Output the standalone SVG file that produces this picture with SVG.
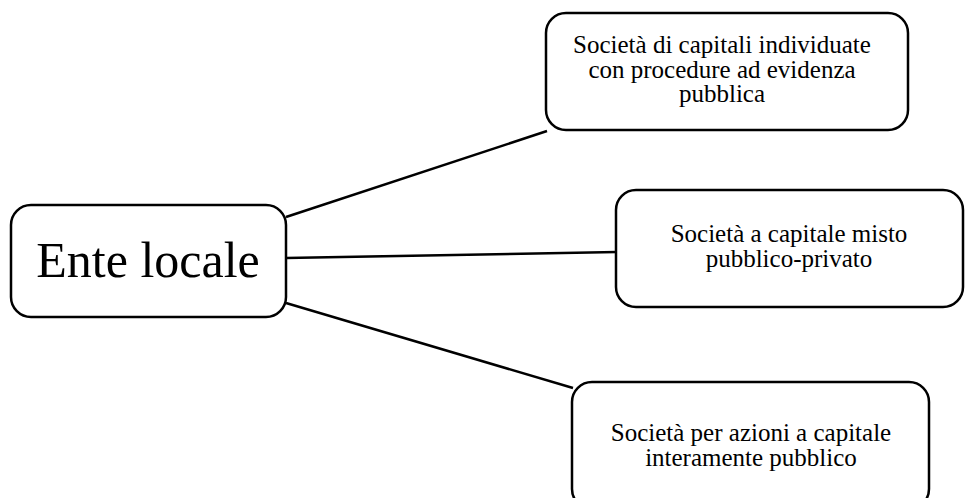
<svg xmlns="http://www.w3.org/2000/svg" width="965" height="498" viewBox="0 0 965 498">
<style>
.box{fill:#fff;stroke:#000;stroke-width:2.5}
.ln{stroke:#000;stroke-width:2.5;fill:none}
.t{font-family:"Liberation Serif","Times New Roman",serif;font-size:25px;fill:#000;text-anchor:middle}
.big{font-family:"Liberation Serif","Times New Roman",serif;font-size:50px;fill:#000;text-anchor:middle}
</style>
<rect width="965" height="498" fill="#fff"/>
<g id="connectors">
<line class="ln" x1="286" y1="217" x2="547" y2="131"/>
<line class="ln" x1="286" y1="258" x2="617" y2="252"/>
<line class="ln" x1="286" y1="303" x2="573" y2="388"/>
</g>
<g id="ente">
<rect class="box" x="11" y="205" width="275" height="112" rx="20"/>
<text class="big" x="148" y="277">Ente locale</text>
</g>
<g id="n1">
<rect class="box" x="546" y="13" width="362" height="117" rx="20"/>
<text class="t" x="722" y="53">Società di capitali individuate</text>
<text class="t" x="722" y="77.5">con procedure ad evidenza</text>
<text class="t" x="722" y="102">pubblica</text>
</g>
<g id="n2">
<rect class="box" x="616" y="190" width="347" height="117" rx="20"/>
<text class="t" x="789" y="242">Società a capitale misto</text>
<text class="t" x="789" y="267">pubblico-privato</text>
</g>
<g id="n3">
<rect class="box" x="572" y="382" width="357" height="127" rx="20"/>
<text class="t" x="751" y="441">Società per azioni a capitale</text>
<text class="t" x="751" y="466">interamente pubblico</text>
</g>
</svg>
